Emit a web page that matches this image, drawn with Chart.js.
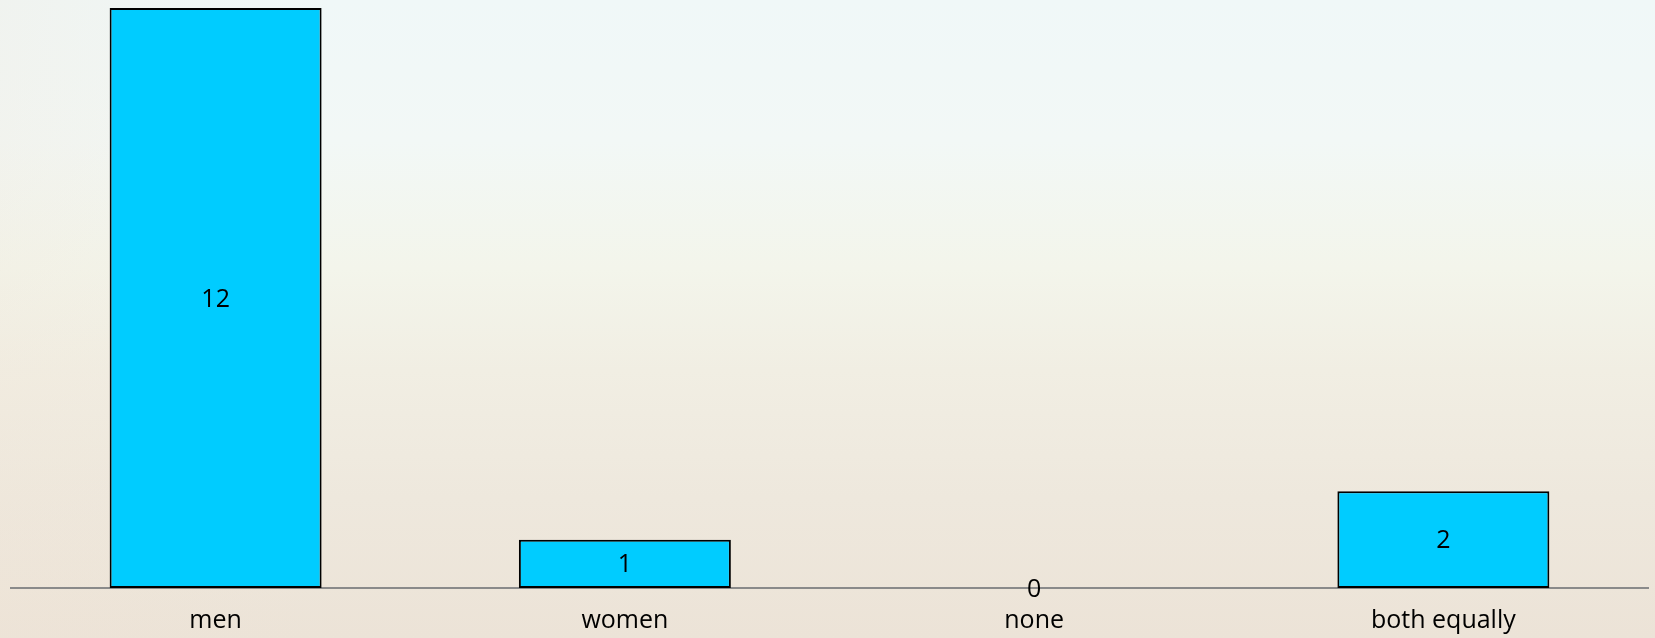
<!DOCTYPE html>
<html>
<head>
<meta charset="utf-8">
<script src="https://cdn.jsdelivr.net/npm/chart.js@4/dist/chart.umd.min.js"></script>
<style>
  html, body { margin: 0; padding: 0; width: 1655px; height: 638px; overflow: hidden; }
  body {
    background:
      linear-gradient(90deg, rgba(240,228,214,0.25) 0%, rgba(240,228,214,0) 20%),
      linear-gradient(180deg, #f0f8f8 0%, #f2f8f6 22%, #f3f5eb 42%, #f1eee3 58%, #eee8dd 78%, #ece3d7 100%);
  }
  #wrap { position: absolute; left: 0; top: 0; width: 1655px; height: 638px; }
</style>
</head>
<body>
<div id="wrap"><canvas id="c" width="1655" height="638"></canvas></div>
<script>
const categories = ["men", "women", "none", "both equally"];
const values = [12, 1, 0, 2];
const yMin = 0;
const yMax = 12;

const valueLabels = {
  id: 'valueLabels',
  afterDatasetsDraw(chart) {
    const ctx = chart.ctx;
    const meta = chart.getDatasetMeta(0);
    ctx.save();
    ctx.font = '25px "Open Sans"';
    ctx.fillStyle = '#000000';
    ctx.textAlign = 'center';
    ctx.textBaseline = 'middle';
    meta.data.forEach((bar, i) => {
      const p = bar.getProps(['x', 'y', 'base'], true);
      ctx.fillText(String(values[i]), p.x, (p.y + p.base) / 2 + 1.5);
    });
    ctx.restore();
  }
};

new Chart(document.getElementById('c'), {
  type: 'bar',
  data: {
    labels: categories,
    datasets: [{
      data: values,
      backgroundColor: '#00ccff',
      borderColor: '#000000',
      borderWidth: 2,
      borderSkipped: false,
      categoryPercentage: 1.0,
      barPercentage: 0.518
    }]
  },
  options: {
    responsive: false,
    animation: false,
    devicePixelRatio: 1,
    layout: { padding: { left: 11, right: 7, top: 8, bottom: 0 } },
    plugins: { legend: { display: false }, tooltip: { enabled: false } },
    scales: {
      x: {
        grid: { display: false, drawTicks: false },
        border: { display: true, color: '#8a8a8a', width: 2 },
        ticks: {
          color: '#000000',
          font: { family: '"Open Sans"', size: 25 },
          padding: 18,
          maxRotation: 0
        },
        afterFit(scale) { scale.height = 50; }
      },
      y: {
        display: false,
        min: yMin,
        max: yMax
      }
    }
  },
  plugins: [valueLabels]
});
</script>
</body>
</html>
